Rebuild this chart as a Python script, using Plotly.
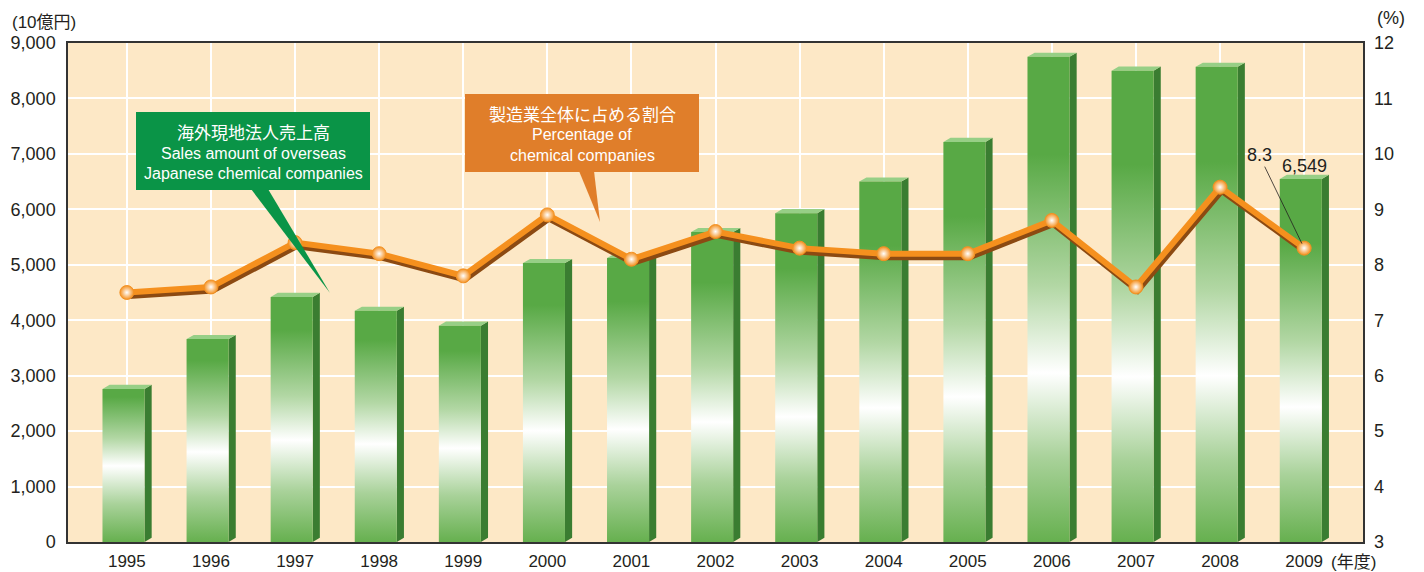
import plotly.graph_objects as go

# ---------------- data ----------------
years = ['1995', '1996', '1997', '1998', '1999', '2000', '2001', '2002',
         '2003', '2004', '2005', '2006', '2007', '2008', '2009']
sales = [2760, 3660, 4420, 4170, 3900, 5030, 5120, 5590, 5930, 6500,
         7215, 8750, 8500, 8570, 6549]          # 10億円
share = [7.5, 7.6, 8.4, 8.2, 7.8, 8.9, 8.1, 8.6, 8.3, 8.2, 8.2, 8.8,
         7.6, 9.4, 8.3]                          # %
left_ticks = [0, 1000, 2000, 3000, 4000, 5000, 6000, 7000, 8000, 9000]
right_ticks = [3, 4, 5, 6, 7, 8, 9, 10, 11, 12]

# ---------------- geometry / style ----------------
OFF = 8                      # page body margin
W, H = 1424 - OFF, 572 - OFF
PLOT_L, PLOT_T, PW, PH = 68, 43, 1295, 499   # plot area in window pixels
L, T = PLOT_L - OFF, PLOT_T - OFF
R, B = W - L - PW, H - T - PH
XR = [-0.7, 14.7]
YR = [0, 9000]
Y2R = [3, 12]

FL, FR = -0.29, 0.21        # front face offsets (category units)
DX = 0.085                  # side depth (category units)
DY = 75                     # top depth (value units)

TXT = '#231f20'
FONT = 'Liberation Sans, Arial, Noto Sans CJK JP, sans-serif'
NARROW = 'Liberation Sans Narrow, Arial Narrow, Liberation Sans, Noto Sans CJK JP, sans-serif'
GREEN_TOP = '#58a945'
GREEN_BOT = '#66b04f'
SIDE = '#3a7d31'
TOPC = '#97cf86'


def px(xp):
    return (xp - PLOT_L) / PW


def py(yp):
    return (PLOT_T + PH - yp) / PH


fig = go.Figure()

# side faces (one trace, polygons separated by None)
sx, sy = [], []
tx, ty = [], []
for i, v in enumerate(sales):
    xr = i + FR
    sx += [xr, xr + DX, xr + DX, xr, xr, None]
    sy += [0, DY, v + DY, v, 0, None]
    xl = i + FL
    tx += [xl, xl + DX, xr + DX, xr, xl, None]
    ty += [v, v + DY, v + DY, v, v, None]

fig.add_trace(go.Scatter(x=sx, y=sy, mode='lines', fill='toself',
                         fillcolor=SIDE, line=dict(width=0),
                         hoverinfo='skip', showlegend=False))
fig.add_trace(go.Scatter(x=tx, y=ty, mode='lines', fill='toself',
                         fillcolor=TOPC, line=dict(width=0),
                         hoverinfo='skip', showlegend=False))

# front faces with vertical gradient
for i, v in enumerate(sales):
    fw = min(0.5, 0.28 + 600.0 / v)
    fg = min(1.0, fw + 0.45)
    cs = [[0, GREEN_BOT], [fw * 0.5, '#a9d29a'], [fw, '#ffffff'],
          [fw + (fg - fw) * 0.4, '#b2d7a4'], [fg, GREEN_TOP]]
    if fg < 1.0:
        cs.append([1, GREEN_TOP])
    xl, xr = i + FL, i + FR
    fig.add_trace(go.Scatter(
        x=[xl, xr, xr, xl, xl], y=[0, 0, v, v, 0], mode='lines',
        fill='toself', line=dict(width=0),
        fillgradient=dict(type='vertical', colorscale=cs, start=0, stop=v),
        hoverinfo='skip', showlegend=False))

# line shadow
xs = list(range(len(years)))
fig.add_trace(go.Scatter(x=[x + 0.02 for x in xs], y=[s - 0.065 for s in share],
                         yaxis='y2', mode='lines',
                         line=dict(color='#8c4a12', width=6),
                         hoverinfo='skip', showlegend=False))
# line
fig.add_trace(go.Scatter(x=xs, y=share, yaxis='y2', mode='lines+markers',
                         line=dict(color='#f5901e', width=6),
                         marker=dict(size=14, color='#f5901e',
                                     gradient=dict(type='radial', color='#ffffff'),
                                     line=dict(color='#f39224', width=1)),
                         showlegend=False))

shapes = []
annotations = []

# green callout
shapes.append(dict(type='rect', xref='paper', yref='paper',
                   x0=px(136), x1=px(370), y0=py(190), y1=py(112),
                   fillcolor='#0a9447', line=dict(width=0)))
shapes.append(dict(type='path', xref='paper', yref='paper',
                   path='M {},{} L {},{} L {},{} Z'.format(px(251), py(189), px(268), py(189), px(330), py(293)),
                   fillcolor='#0a9447', line=dict(width=0)))
# orange callout
shapes.append(dict(type='rect', xref='paper', yref='paper',
                   x0=px(465), x1=px(699), y0=py(172), y1=py(94),
                   fillcolor='#e07e2a', line=dict(width=0)))
shapes.append(dict(type='path', xref='paper', yref='paper',
                   path='M {},{} L {},{} L {},{} Z'.format(px(579), py(171), px(594), py(171), px(600), py(222)),
                   fillcolor='#e07e2a', line=dict(width=0)))


def txt(x, y, s, size=17, family=FONT, color=TXT, xanchor='center'):
    annotations.append(dict(xref='paper', yref='paper', x=px(x), y=py(y), text=s,
                            showarrow=False, xanchor=xanchor, yanchor='middle',
                            font=dict(size=size, family=family, color=color)))


txt(253, 132, '海外現地法人売上高', 17, 'Noto Sans CJK JP, sans-serif', '#ffffff')
txt(253, 153, 'Sales amount of overseas', 16, NARROW, '#ffffff')
txt(253, 173, 'Japanese chemical companies', 16, NARROW, '#ffffff')
txt(582, 113, '製造業全体に占める割合', 17, 'Noto Sans CJK JP, sans-serif', '#ffffff')
txt(582, 135, 'Percentage of', 16, NARROW, '#ffffff')
txt(582, 155, 'chemical companies', 16, NARROW, '#ffffff')

txt(10, 22, '(10億円)', 17, FONT, TXT, 'left')
txt(1375, 18, '(%)', 18, FONT, TXT, 'left')
txt(1329, 562, '(年度)', 17, FONT, TXT, 'left')

# value labels for 2009
last = len(years) - 1
annotations.append(dict(x=last, y=sales[last], xref='x', yref='y',
                        text=f'{sales[last]:,}', showarrow=False,
                        yanchor='middle', yshift=13,
                        font=dict(size=18, family=FONT, color=TXT)))
annotations.append(dict(x=last, y=share[last], xref='x', yref='y2',
                        text=f'{share[last]}', showarrow=True, arrowhead=0,
                        arrowwidth=0.8, arrowcolor=TXT, ax=-45, ay=-93,
                        standoff=5,
                        font=dict(size=18, family=FONT, color=TXT)))

fig.update_layout(
    template='none',
    width=W, height=H,
    margin=dict(l=L, r=R, t=T, b=B, autoexpand=False),
    paper_bgcolor='#ffffff',
    plot_bgcolor='#fde8c6',
    font=dict(family=FONT, size=18, color=TXT),
    xaxis=dict(range=XR, tickvals=xs, ticktext=years, showgrid=True,
               gridcolor='#ffffff', gridwidth=2, zeroline=False,
               showline=True, mirror=True, linecolor='#333333', linewidth=1.5,
               ticks='', tickfont=dict(size=17), ticklabelstandoff=3,
               automargin=False),
    yaxis=dict(range=YR, tickvals=left_ticks, tickformat=',d', showgrid=True,
               gridcolor='#ffffff', gridwidth=2, zeroline=False,
               showline=True, mirror=True, linecolor='#333333', linewidth=1.5,
               ticks='', tickfont=dict(size=18), ticklabelstandoff=7,
               automargin=False),
    yaxis2=dict(range=Y2R, tickvals=right_ticks, overlaying='y', side='right',
                showgrid=False, zeroline=False, ticks='', showline=False,
                tickfont=dict(size=18), ticklabelstandoff=10,
                automargin=False),
    shapes=shapes,
    annotations=annotations,
    showlegend=False,
)

fig.write_html('out.html')
